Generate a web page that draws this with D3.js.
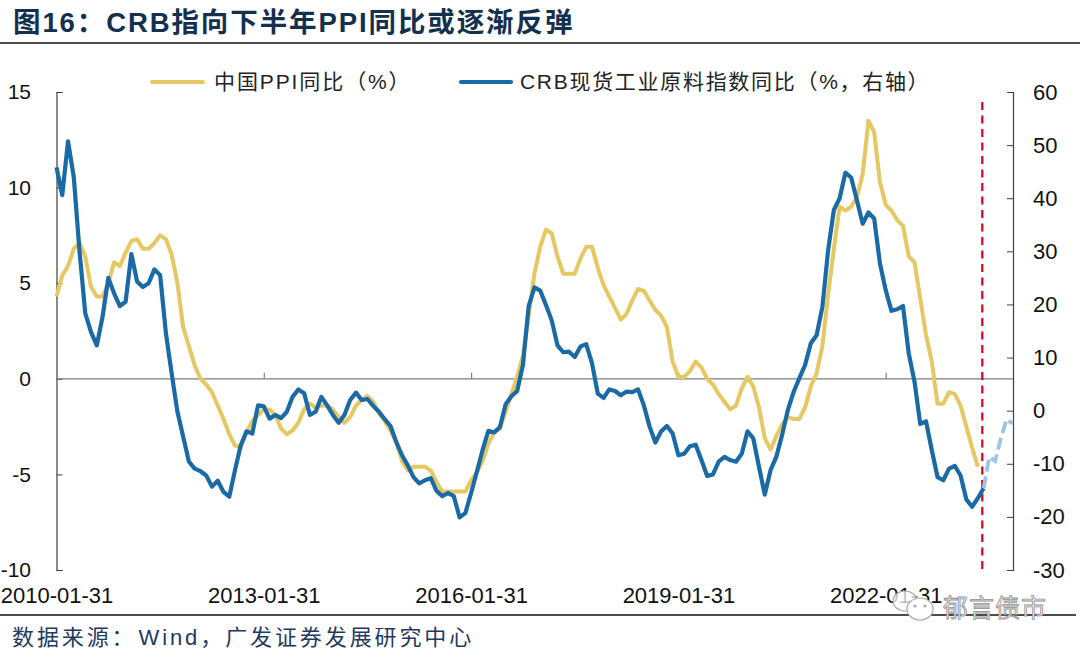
<!DOCTYPE html>
<html><head><meta charset="utf-8">
<script src="https://cdnjs.cloudflare.com/ajax/libs/d3/7.8.5/d3.min.js"></script>
<style>
html,body{margin:0;padding:0;background:#fff;overflow:hidden}
svg{display:block}
text{font-family:"Liberation Sans","Noto Sans CJK SC",sans-serif}
</style></head><body>
<svg id="c" width="1080" height="655"></svg>
<script>
const titleText="图16：CRB指向下半年PPI同比或逐渐反弹";
const sourceParts=["数据来源：","Wind，广发证券发展研究中心"];
const legendPPI="中国PPI同比（%）";
const legendCRB="CRB现货工业原料指数同比（%，右轴）";
const xLabels=["2010-01-31","2013-01-31","2016-01-31","2019-01-31","2022-01-31"];
const xLabelMonths=[0,36,72,108,144];
const leftTicks=[15,10,5,0,-5,-10];
const rightTicks=[60,50,40,30,20,10,0,-10,-20,-30];
// China PPI y/y, monthly from 2010-01
const ppi=[4.3,5.4,5.9,6.8,7.1,6.4,4.8,4.3,4.3,5.0,6.1,5.9,
6.6,7.2,7.3,6.8,6.8,7.1,7.5,7.3,6.5,5.0,2.7,1.7,
0.7,0.0,-0.3,-0.7,-1.4,-2.1,-2.9,-3.5,-3.6,-2.8,-2.2,-1.9,
-1.6,-1.6,-1.9,-2.6,-2.9,-2.7,-2.3,-1.6,-1.3,-1.5,-1.4,-1.4,
-1.6,-2.0,-2.3,-2.0,-1.4,-1.1,-0.9,-1.2,-1.8,-2.2,-2.7,-3.3,
-4.3,-4.8,-4.6,-4.6,-4.6,-4.8,-5.4,-5.9,-5.9,-5.9,-5.9,-5.9,
-5.3,-4.9,-4.3,-3.4,-2.8,-2.6,-1.7,-0.8,0.1,1.2,3.3,5.5,
6.9,7.8,7.6,6.4,5.5,5.5,5.5,6.3,6.9,6.9,5.8,4.9,
4.3,3.7,3.1,3.4,4.1,4.7,4.6,4.1,3.6,3.3,2.7,0.9,
0.1,0.1,0.4,0.9,0.6,0.0,-0.3,-0.8,-1.2,-1.6,-1.4,-0.5,
0.1,-0.4,-1.5,-3.1,-3.7,-3.0,-2.4,-2.0,-2.1,-2.1,-1.5,-0.4,
0.3,1.7,4.4,6.8,9.0,8.8,9.0,9.5,10.7,13.5,12.9,10.3,
9.1,8.8,8.3,8.0,6.4,6.1,4.2,2.3,0.9,-1.3,-1.3,-0.7,
-0.8,-1.4,-2.5,-3.6,-4.6];
// CRB spot raw industrials y/y (right axis), monthly from 2010-01
const crb=[45.8,40.6,50.7,44,30,18.3,14.8,12.3,17.7,25,22.1,19.7,
20.5,29.5,24.3,23.3,24,26.6,25.5,14.6,7,-0.2,-4.9,-9.6,
-10.9,-11.4,-12.2,-14.3,-13.2,-15.3,-16.2,-11.2,-6.5,-3.9,-4.3,1,
0.8,-1.5,-0.8,-1.4,-0.2,2.6,4,3.3,-0.8,-0.2,2.6,1,
-0.8,-2.3,-0.8,2,3.4,2,2.2,0.9,-0.2,-1.6,-2.9,-5.9,
-8.4,-10.3,-12.5,-13.7,-13.1,-12.7,-15.1,-16.1,-15.5,-16.1,-20.1,-19.3,
-15.5,-11.5,-7.4,-3.8,-4.1,-3.1,1.2,2.7,3.7,8.6,19.7,23.2,
22.6,19.9,17,12.3,11,11.1,10.1,12.1,12.5,8.9,3.2,2.4,
4,3.7,2.9,3.6,3.5,4,1,-3,-6,-3.9,-2.9,-4.3,
-8.4,-8.1,-6.7,-6.4,-9.3,-12.3,-12,-9.6,-8.7,-9.3,-9.6,-8.1,
-3.9,-5.2,-10.6,-15.8,-11.2,-8.7,-4.6,0.1,3.5,6.1,8.6,12.7,
14.2,19.5,30.2,37.8,40,44.8,43.9,39.6,35.2,37.3,36.2,27.7,
22.7,18.8,19.1,19.7,10.8,5.5,-2.5,-2,-7.4,-12.5,-13.1,-10.9,
-10.4,-12.2,-16.7,-18.1,-16.5,-14.6];
// Projection (right axis), continuing from the last CRB month
const crbProjection=[-14.6,-8.7,-9.5,-5.2,-1.6,-2.4];
const forecastMonth=161;

const svg=d3.select("#c");
const x=d3.scaleLinear().domain([0,36]).range([56.5,263.8]);
const yL=d3.scaleLinear().domain([-10,15]).range([570,92]);
const yR=d3.scaleLinear().domain([-30,60]).range([570,92]);
const cYellow="#E5C862",cBlue="#1A6BA5",cLight="#9DC3E6",cRed="#E0001B",cAxis="#404040",cText="#111";

// header / footer
svg.append("text").text(titleText).attr("x",13).attr("y",32).attr("font-size",27.5).attr("font-weight",700).attr("fill","#14304F").attr("letter-spacing",1.9);
svg.append("line").attr("x1",0).attr("x2",1080).attr("y1",43).attr("y2",43).attr("stroke","#111").attr("stroke-width",1.6);
svg.append("line").attr("x1",0).attr("x2",1076).attr("y1",615).attr("y2",615).attr("stroke","#111").attr("stroke-width",1.6);
const src=svg.append("text").attr("x",12).attr("y",645).attr("font-size",22).attr("fill","#1F3A5F").attr("letter-spacing",2.9);
src.append("tspan").text(sourceParts[0]);
src.append("tspan").attr("dx",2).text(sourceParts[1]);

// axes
function style(g,fs){
  g.selectAll(".domain").attr("stroke",cAxis).attr("stroke-width",1.2);
  g.selectAll(".tick line").attr("stroke",cAxis).attr("stroke-width",1);
  g.selectAll("text").attr("fill",cText).attr("font-size",fs).attr("font-family",'"Liberation Sans"');
}
const gL=svg.append("g").attr("transform","translate(56.5,0)")
  .call(d3.axisLeft(yL).tickValues(leftTicks).tickSize(-6).tickSizeOuter(-6).tickPadding(25.5).tickFormat(d=>d));
style(gL,21);
const gR=svg.append("g").attr("transform","translate(1013,0)")
  .call(d3.axisRight(yR).tickValues(rightTicks).tickSize(-6).tickSizeOuter(-6).tickPadding(20).tickFormat(d=>d));
style(gR,22);
const gZero=svg.append("g").attr("transform",`translate(0,${yL(0)})`)
  .call(d3.axisTop(x).tickValues(xLabelMonths.slice(1)).tickSize(6).tickSizeOuter(0).tickFormat(""));
gZero.select(".domain").attr("d",`M56.5,0H1013`).attr("stroke","#7F7F7F").attr("stroke-width",1.3);
gZero.selectAll(".tick line").attr("stroke","#7F7F7F").attr("stroke-width",1.2);
const gX=svg.append("g").attr("transform","translate(0,586)")
  .call(d3.axisBottom(x).tickValues(xLabelMonths).tickSize(0).tickPadding(1).tickFormat((d,i)=>xLabels[i]));
gX.select(".domain").remove();
gX.selectAll("text").attr("fill",cText).attr("font-size",22).attr("font-family",'"Liberation Sans"');

// red divider
svg.append("line").attr("x1",x(forecastMonth)-1.3).attr("x2",x(forecastMonth)-1.3)
  .attr("y1",102).attr("y2",571).attr("stroke",cRed).attr("stroke-width",2.2).attr("stroke-dasharray","8 5.5");

// series
const lineL=d3.line().x((d,i)=>x(i)).y(d=>yL(d)).curve(d3.curveLinear);
const lineR=d3.line().x((d,i)=>x(i)).y(d=>yR(d)).curve(d3.curveLinear);
svg.append("path").datum(ppi).attr("d",lineL).attr("fill","none").attr("stroke",cYellow).attr("stroke-width",4).attr("stroke-linejoin","round");
svg.append("path").datum(crb).attr("d",lineR).attr("fill","none").attr("stroke",cBlue).attr("stroke-width",4.2).attr("stroke-linejoin","round");
const lineP=d3.line().x((d,i)=>x(forecastMonth+i)).y(d=>yR(d));
svg.append("path").datum(crbProjection).attr("d",lineP).attr("fill","none").attr("stroke",cLight).attr("stroke-width",3.8).attr("stroke-dasharray","12 5");

// legend
svg.append("line").attr("x1",152).attr("x2",203).attr("y1",82).attr("y2",82).attr("stroke",cYellow).attr("stroke-width",4.2).attr("stroke-linecap","round");
svg.append("text").text(legendPPI).attr("x",214).attr("y",89).attr("font-size",21).attr("fill","#222").attr("letter-spacing",1.9);
svg.append("line").attr("x1",461).attr("x2",511).attr("y1",82).attr("y2",82).attr("stroke",cBlue).attr("stroke-width",4.2).attr("stroke-linecap","round");
svg.append("text").text(legendCRB).attr("x",520).attr("y",89).attr("font-size",21).attr("fill","#222").attr("letter-spacing",1.7);

// watermark
const wm=svg.append("g").attr("stroke","#a8a8a8").attr("stroke-width",1.2).attr("fill","none");
wm.append("ellipse").attr("cx",905).attr("cy",601).attr("rx",12).attr("ry",10).attr("fill","#fff").attr("fill-opacity",0.75);
wm.append("ellipse").attr("cx",920).attr("cy",609).attr("rx",13).attr("ry",11).attr("fill","#fff");
wm.append("circle").attr("cx",915).attr("cy",606).attr("r",1).attr("fill","#a8a8a8");
wm.append("circle").attr("cx",925).attr("cy",606).attr("r",1).attr("fill","#a8a8a8");
svg.append("text").text("郁言债市").attr("x",943).attr("y",617).attr("font-size",25).attr("fill","#f2f2f2").attr("stroke","#8f8f8f").attr("stroke-width",0.8).attr("letter-spacing",1);
</script>
</body></html>
